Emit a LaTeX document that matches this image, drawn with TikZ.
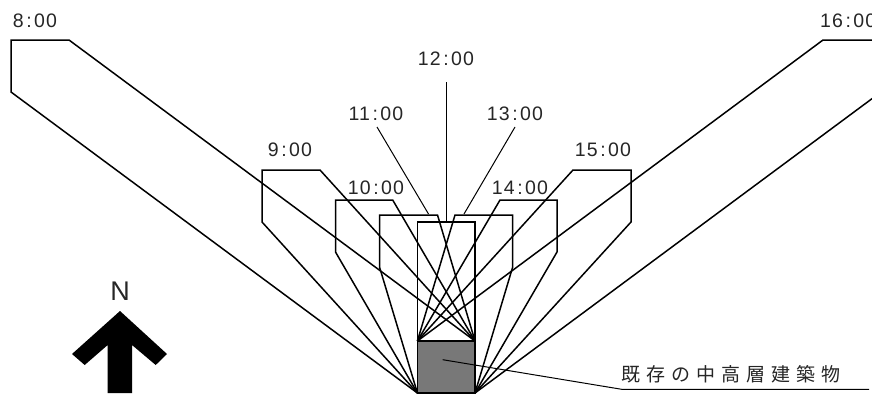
\documentclass[tikz,border=0pt]{standalone}
\usepackage{fontspec}
\setmainfont{Liberation Sans}
\newfontfamily\jpfont{Noto Sans CJK JP}
\newfontfamily\timefont[LetterSpace=6]{Liberation Sans}
\newcommand{\clk}[1]{#1\kern2.5pt:\kern2.5pt 00}
\tikzset{
  outline/.style={draw=black,line width=1.5pt,line join=miter},
  thinlead/.style={draw=black,line width=1pt},
  timelabel/.style={inner sep=0pt,font=\timefont\fontsize{19.5}{21}\selectfont,text=black!85},
}
\begin{document}
\begin{tikzpicture}[x=1pt,y=-1pt]
\useasboundingbox (0,0) rectangle (872,394);
\clip (0,0) rectangle (872,394);
% base points of the building
\coordinate (NW) at (417.4,341);
\coordinate (NE) at (475,341);
\coordinate (SW) at (417.4,393);
\coordinate (SE) at (475,393);
% building
\fill[black!53] (NW) rectangle (SE);
% shadow outlines
\draw[outline] (SW) -- (11,92) -- (11,40) -- (69,40) -- (NE);
\draw[outline] (SW) -- (262,222) -- (262,170) -- (320,170) -- (NE);
\draw[outline] (SW) -- (335.5,252) -- (335.5,200) -- (392.7,200) -- (NE);
\draw[outline] (SW) -- (379.5,267) -- (379.5,215) -- (437.5,215) -- (NE);
\draw[outline] (NW) -- (417.4,222) -- (475,222) -- (NE);
\draw[outline] (NW) -- (455,215) -- (512.7,215) -- (512.7,267) -- (SE);
\draw[outline] (NW) -- (500,200) -- (557,200) -- (557,252) -- (SE);
\draw[outline] (NW) -- (573,170) -- (631,170) -- (631,222) -- (SE);
\draw[outline] (NW) -- (823,40) -- (881,40) -- (881,92) -- (SE);
\draw[outline] (NW) rectangle (SE);
% labels
\node[timelabel] (t8) at (35,21) {\clk{8}};
\node[timelabel] (t9) at (290,150) {\clk{9}};
\node[timelabel] (t10) at (376,188) {\clk{10}};
\node[timelabel] (t11) at (376,114) {\clk{11}};
\node[timelabel] (t12) at (446,59) {\clk{12}};
\node[timelabel] (t13) at (515,114) {\clk{13}};
\node[timelabel] (t14) at (520,188) {\clk{14}};
\node[timelabel] (t15) at (603,150) {\clk{15}};
\node[timelabel,anchor=west] (t16) at (820,21) {\clk{16}};
% leaders to labels
\coordinate (e11) at (428.5,214);
\coordinate (e12) at (446,222);
\coordinate (e13) at (464,214);
\coordinate (s11) at (377,127);
\coordinate (s12) at (446,82);
\coordinate (s13) at (515,127);
\draw[thinlead] (s11) -- (e11);
\draw[thinlead] (s12) -- (e12);
\draw[thinlead] (s13) -- (e13);
% building callout
\coordinate (c0) at (442.7,359.7);
\coordinate (c1) at (621.7,389.3);
\coordinate (c2) at (869,389.3);
\draw[thinlead] (c0) -- (c1) -- (c2);
\node[inner sep=0pt,anchor=west,font=\jpfont\fontsize{19}{21}\selectfont,text=black!85] (bl) at (621,374) {既\kern6pt 存\kern6pt の\kern6pt 中\kern6pt 高\kern6pt 層\kern6pt 建\kern6pt 築\kern6pt 物};
% north arrow
\fill[black] (120,311) -- (167,354) -- (155.7,365) -- (132,345) -- (132,393) -- (107.7,393) -- (107.7,345) -- (84.7,365) -- (72,354) -- cycle;
\node[inner sep=0pt,font=\fontsize{27}{29}\selectfont,text=black!85] (n) at (120,291) {N};
\end{tikzpicture}
\end{document}
